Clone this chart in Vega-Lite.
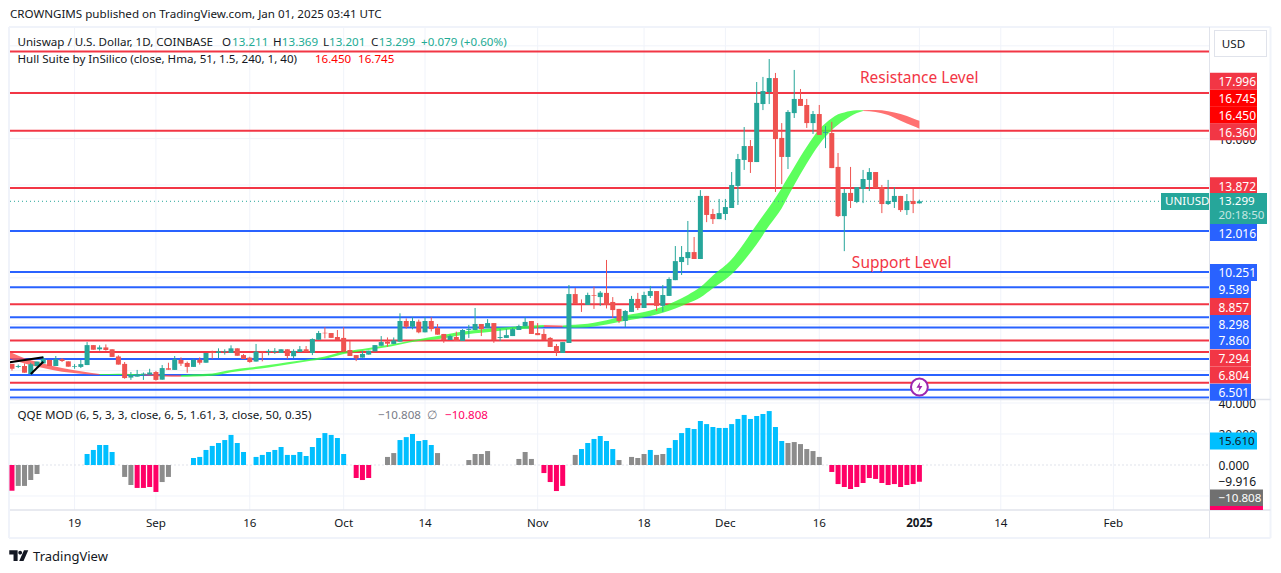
{
"$schema":"https://vega.github.io/schema/vega-lite/v6.json",
"width":1281,"height":573,"padding":0,"autosize":{"type":"none"},"background":"#ffffff",
"config":{"view":{"stroke":null},"axis":{"disable":true},"legend":{"disable":true},"scale":{"continuousPadding":0},"text":{"font":"Noto Sans","fontSize":11.6,"dy":1}},
"datasets":{
"candles":[
{"date":"2024-08-09","open":6.29,"high":6.29,"low":6.00,"close":6.08},
{"date":"2024-08-10","open":6.16,"high":6.26,"low":6.11,"close":6.20},
{"date":"2024-08-11","open":6.20,"high":6.31,"low":5.91,"close":5.91},
{"date":"2024-08-12","open":5.85,"high":6.34,"low":5.82,"close":6.28},
{"date":"2024-08-13","open":6.20,"high":6.39,"low":6.20,"close":6.39},
{"date":"2024-08-14","open":6.31,"high":6.60,"low":6.31,"close":6.51},
{"date":"2024-08-15","open":6.46,"high":6.46,"low":6.20,"close":6.20},
{"date":"2024-08-16","open":6.20,"high":6.63,"low":6.20,"close":6.49},
{"date":"2024-08-17","open":6.49,"high":6.54,"low":6.37,"close":6.41},
{"date":"2024-08-18","open":6.40,"high":6.40,"low":6.17,"close":6.17},
{"date":"2024-08-19","open":6.17,"high":6.28,"low":6.08,"close":6.20},
{"date":"2024-08-20","open":6.16,"high":6.46,"low":6.11,"close":6.28},
{"date":"2024-08-21","open":6.24,"high":7.23,"low":6.24,"close":7.10},
{"date":"2024-08-22","open":7.10,"high":7.10,"low":6.90,"close":6.90},
{"date":"2024-08-23","open":6.92,"high":7.09,"low":6.86,"close":7.00},
{"date":"2024-08-24","open":7.00,"high":7.13,"low":6.86,"close":6.89},
{"date":"2024-08-25","open":6.92,"high":6.92,"low":6.59,"close":6.59},
{"date":"2024-08-26","open":6.61,"high":6.66,"low":6.26,"close":6.26},
{"date":"2024-08-27","open":6.29,"high":6.37,"low":5.65,"close":5.68},
{"date":"2024-08-28","open":5.70,"high":5.94,"low":5.60,"close":5.81},
{"date":"2024-08-29","open":5.74,"high":6.03,"low":5.74,"close":5.85},
{"date":"2024-08-30","open":5.83,"high":5.92,"low":5.60,"close":5.87},
{"date":"2024-08-31","open":5.83,"high":6.08,"low":5.83,"close":5.92},
{"date":"2024-09-01","open":5.94,"high":5.99,"low":5.57,"close":5.60},
{"date":"2024-09-02","open":5.61,"high":6.24,"low":5.61,"close":6.11},
{"date":"2024-09-03","open":6.10,"high":6.34,"low":6.04,"close":6.04},
{"date":"2024-09-04","open":6.03,"high":6.63,"low":6.03,"close":6.49},
{"date":"2024-09-05","open":6.46,"high":6.57,"low":6.20,"close":6.30},
{"date":"2024-09-06","open":6.33,"high":6.39,"low":5.91,"close":6.16},
{"date":"2024-09-07","open":6.16,"high":6.51,"low":6.16,"close":6.46},
{"date":"2024-09-08","open":6.47,"high":6.57,"low":6.26,"close":6.34},
{"date":"2024-09-09","open":6.34,"high":6.76,"low":6.34,"close":6.76},
{"date":"2024-09-10","open":6.82,"high":6.86,"low":6.51,"close":6.76},
{"date":"2024-09-11","open":6.76,"high":6.96,"low":6.54,"close":6.83},
{"date":"2024-09-12","open":6.80,"high":6.92,"low":6.69,"close":6.83},
{"date":"2024-09-13","open":6.76,"high":7.09,"low":6.76,"close":6.96},
{"date":"2024-09-14","open":6.96,"high":6.96,"low":6.64,"close":6.64},
{"date":"2024-09-15","open":6.67,"high":6.72,"low":6.50,"close":6.50},
{"date":"2024-09-16","open":6.56,"high":6.60,"low":6.34,"close":6.37},
{"date":"2024-09-17","open":6.39,"high":7.15,"low":6.39,"close":6.82},
{"date":"2024-09-18","open":6.83,"high":6.83,"low":6.40,"close":6.80},
{"date":"2024-09-19","open":6.80,"high":6.92,"low":6.66,"close":6.85},
{"date":"2024-09-20","open":6.80,"high":6.97,"low":6.72,"close":6.85},
{"date":"2024-09-21","open":6.76,"high":6.92,"low":6.76,"close":6.92},
{"date":"2024-09-22","open":6.92,"high":6.92,"low":6.51,"close":6.63},
{"date":"2024-09-23","open":6.62,"high":6.92,"low":6.54,"close":6.85},
{"date":"2024-09-24","open":6.80,"high":7.06,"low":6.80,"close":6.92},
{"date":"2024-09-25","open":6.92,"high":7.06,"low":6.80,"close":6.80},
{"date":"2024-09-26","open":6.76,"high":7.39,"low":6.67,"close":7.36},
{"date":"2024-09-27","open":7.33,"high":7.71,"low":7.33,"close":7.62},
{"date":"2024-09-28","open":7.63,"high":7.87,"low":7.39,"close":7.61},
{"date":"2024-09-29","open":7.62,"high":7.62,"low":7.41,"close":7.41},
{"date":"2024-09-30","open":7.45,"high":7.75,"low":7.32,"close":7.32},
{"date":"2024-10-01","open":7.41,"high":7.87,"low":6.82,"close":6.82},
{"date":"2024-10-02","open":6.89,"high":7.29,"low":6.63,"close":6.63},
{"date":"2024-10-03","open":6.67,"high":6.67,"low":6.41,"close":6.53},
{"date":"2024-10-04","open":6.56,"high":6.85,"low":6.56,"close":6.72},
{"date":"2024-10-05","open":6.69,"high":6.86,"low":6.69,"close":6.86},
{"date":"2024-10-06","open":6.83,"high":7.10,"low":6.83,"close":7.10},
{"date":"2024-10-07","open":7.07,"high":7.49,"low":7.07,"close":7.23},
{"date":"2024-10-08","open":7.25,"high":7.43,"low":7.03,"close":7.16},
{"date":"2024-10-09","open":7.15,"high":7.43,"low":7.15,"close":7.30},
{"date":"2024-10-10","open":7.25,"high":8.47,"low":7.25,"close":8.14},
{"date":"2024-10-11","open":8.14,"high":8.25,"low":7.81,"close":7.89},
{"date":"2024-10-12","open":7.89,"high":8.30,"low":7.78,"close":8.14},
{"date":"2024-10-13","open":8.11,"high":8.20,"low":7.61,"close":7.65},
{"date":"2024-10-14","open":7.65,"high":8.30,"low":7.65,"close":8.14},
{"date":"2024-10-15","open":8.14,"high":8.30,"low":7.69,"close":7.79},
{"date":"2024-10-16","open":7.84,"high":8.01,"low":7.55,"close":7.55},
{"date":"2024-10-17","open":7.58,"high":7.58,"low":7.20,"close":7.32},
{"date":"2024-10-18","open":7.32,"high":7.55,"low":7.32,"close":7.49},
{"date":"2024-10-19","open":7.45,"high":7.68,"low":7.28,"close":7.28},
{"date":"2024-10-20","open":7.28,"high":7.79,"low":7.28,"close":7.75},
{"date":"2024-10-21","open":7.75,"high":7.97,"low":7.41,"close":7.79},
{"date":"2024-10-22","open":7.75,"high":8.70,"low":7.75,"close":8.01},
{"date":"2024-10-23","open":8.01,"high":8.01,"low":7.49,"close":7.79},
{"date":"2024-10-24","open":7.84,"high":8.22,"low":7.84,"close":8.05},
{"date":"2024-10-25","open":8.05,"high":8.05,"low":7.20,"close":7.32},
{"date":"2024-10-26","open":7.41,"high":7.79,"low":7.28,"close":7.45},
{"date":"2024-10-27","open":7.41,"high":7.79,"low":7.41,"close":7.53},
{"date":"2024-10-28","open":7.49,"high":7.84,"low":7.49,"close":7.79},
{"date":"2024-10-29","open":7.75,"high":7.98,"low":7.75,"close":7.92},
{"date":"2024-10-30","open":7.91,"high":8.30,"low":7.91,"close":8.10},
{"date":"2024-10-31","open":8.14,"high":8.14,"low":7.58,"close":7.58},
{"date":"2024-11-01","open":7.62,"high":8.05,"low":7.53,"close":7.53},
{"date":"2024-11-02","open":7.58,"high":7.79,"low":7.32,"close":7.32},
{"date":"2024-11-03","open":7.41,"high":7.45,"low":7.02,"close":7.02},
{"date":"2024-11-04","open":7.06,"high":7.15,"low":6.63,"close":6.80},
{"date":"2024-11-05","open":6.76,"high":7.23,"low":6.76,"close":7.23},
{"date":"2024-11-06","open":7.19,"high":9.69,"low":7.19,"close":9.30},
{"date":"2024-11-07","open":9.30,"high":9.56,"low":8.87,"close":8.87},
{"date":"2024-11-08","open":8.90,"high":9.07,"low":8.53,"close":8.87},
{"date":"2024-11-09","open":8.83,"high":9.36,"low":8.83,"close":9.26},
{"date":"2024-11-10","open":9.26,"high":9.62,"low":8.66,"close":9.23},
{"date":"2024-11-11","open":9.17,"high":9.43,"low":8.79,"close":9.36},
{"date":"2024-11-12","open":9.35,"high":10.77,"low":8.68,"close":8.83},
{"date":"2024-11-13","open":8.96,"high":9.17,"low":8.27,"close":8.61},
{"date":"2024-11-14","open":8.66,"high":8.66,"low":8.05,"close":8.14},
{"date":"2024-11-15","open":8.14,"high":8.61,"low":7.88,"close":8.57},
{"date":"2024-11-16","open":8.53,"high":9.22,"low":8.53,"close":9.09},
{"date":"2024-11-17","open":9.09,"high":9.35,"low":8.61,"close":8.70},
{"date":"2024-11-18","open":8.70,"high":9.40,"low":8.70,"close":9.26},
{"date":"2024-11-19","open":9.22,"high":9.65,"low":9.13,"close":9.43},
{"date":"2024-11-20","open":9.43,"high":9.43,"low":8.57,"close":8.79},
{"date":"2024-11-21","open":8.79,"high":9.69,"low":8.53,"close":9.26},
{"date":"2024-11-22","open":9.22,"high":10.02,"low":9.22,"close":9.95},
{"date":"2024-11-23","open":9.90,"high":11.37,"low":9.90,"close":10.72},
{"date":"2024-11-24","open":10.68,"high":11.37,"low":10.12,"close":10.90},
{"date":"2024-11-25","open":10.85,"high":12.45,"low":10.55,"close":11.11},
{"date":"2024-11-26","open":11.11,"high":11.76,"low":10.81,"close":10.81},
{"date":"2024-11-27","open":10.81,"high":13.78,"low":10.81,"close":13.53},
{"date":"2024-11-28","open":13.53,"high":13.53,"low":12.40,"close":12.71},
{"date":"2024-11-29","open":12.75,"high":12.97,"low":12.32,"close":12.53},
{"date":"2024-11-30","open":12.53,"high":13.40,"low":12.53,"close":12.79},
{"date":"2024-12-01","open":12.75,"high":13.40,"low":12.49,"close":13.05},
{"date":"2024-12-02","open":13.01,"high":14.56,"low":13.01,"close":14.00},
{"date":"2024-12-03","open":13.96,"high":15.34,"low":13.14,"close":15.12},
{"date":"2024-12-04","open":15.08,"high":16.50,"low":14.65,"close":15.68},
{"date":"2024-12-05","open":15.68,"high":15.94,"low":14.52,"close":14.99},
{"date":"2024-12-06","open":14.99,"high":18.44,"low":14.99,"close":17.54},
{"date":"2024-12-07","open":17.49,"high":18.66,"low":17.23,"close":18.05},
{"date":"2024-12-08","open":18.01,"high":19.43,"low":17.49,"close":18.61},
{"date":"2024-12-09","open":18.61,"high":18.83,"low":13.70,"close":15.98},
{"date":"2024-12-10","open":16.03,"high":16.67,"low":14.04,"close":15.21},
{"date":"2024-12-11","open":15.21,"high":17.23,"low":14.69,"close":17.15},
{"date":"2024-12-12","open":17.10,"high":18.96,"low":16.89,"close":17.71},
{"date":"2024-12-13","open":17.71,"high":18.14,"low":17.41,"close":17.41},
{"date":"2024-12-14","open":17.45,"high":17.71,"low":16.46,"close":16.67},
{"date":"2024-12-15","open":16.67,"high":17.19,"low":16.20,"close":17.06},
{"date":"2024-12-16","open":17.06,"high":17.45,"low":16.16,"close":16.16},
{"date":"2024-12-17","open":16.24,"high":16.54,"low":15.59,"close":16.28},
{"date":"2024-12-18","open":16.24,"high":16.72,"low":14.73,"close":14.73},
{"date":"2024-12-19","open":14.78,"high":15.38,"low":12.62,"close":12.66},
{"date":"2024-12-20","open":12.66,"high":13.83,"low":11.15,"close":13.66},
{"date":"2024-12-21","open":13.66,"high":14.78,"low":13.01,"close":13.31},
{"date":"2024-12-22","open":13.27,"high":13.91,"low":13.22,"close":13.91},
{"date":"2024-12-23","open":13.83,"high":14.65,"low":13.22,"close":14.26},
{"date":"2024-12-24","open":14.22,"high":14.73,"low":13.74,"close":14.56},
{"date":"2024-12-25","open":14.56,"high":14.56,"low":13.87,"close":13.87},
{"date":"2024-12-26","open":13.91,"high":14.00,"low":12.79,"close":13.18},
{"date":"2024-12-27","open":13.18,"high":14.22,"low":13.14,"close":13.31},
{"date":"2024-12-28","open":13.27,"high":13.91,"low":13.01,"close":13.53},
{"date":"2024-12-29","open":13.53,"high":13.53,"low":12.84,"close":12.92},
{"date":"2024-12-30","open":12.92,"high":13.61,"low":12.71,"close":13.31},
{"date":"2024-12-31","open":13.31,"high":13.83,"low":12.79,"close":13.18},
{"date":"2025-01-01","open":13.211,"high":13.369,"low":13.201,"close":13.299}
],
"hull":[
{"date":"2024-08-08T16:00:00Z","upper":6.80,"lower":6.51,"trend":"down","seg":1},
{"date":"2024-08-11","upper":6.53,"lower":6.31,"trend":"down","seg":1},
{"date":"2024-08-14","upper":6.31,"lower":6.11,"trend":"down","seg":1},
{"date":"2024-08-17","upper":6.11,"lower":5.95,"trend":"down","seg":1},
{"date":"2024-08-20","upper":5.97,"lower":5.87,"trend":"down","seg":1},
{"date":"2024-08-23","upper":5.85,"lower":5.81,"trend":"down","seg":1},
{"date":"2024-08-23","upper":5.85,"lower":5.81,"trend":"up","seg":2},
{"date":"2024-08-26","upper":5.87,"lower":5.81,"trend":"up","seg":2},
{"date":"2024-08-30","upper":5.85,"lower":5.80,"trend":"up","seg":2},
{"date":"2024-08-30","upper":5.85,"lower":5.80,"trend":"down","seg":3},
{"date":"2024-09-02","upper":5.81,"lower":5.75,"trend":"down","seg":3},
{"date":"2024-09-05","upper":5.80,"lower":5.74,"trend":"down","seg":3},
{"date":"2024-09-05","upper":5.80,"lower":5.74,"trend":"up","seg":4},
{"date":"2024-09-07","upper":5.84,"lower":5.75,"trend":"up","seg":4},
{"date":"2024-09-10","upper":5.88,"lower":5.78,"trend":"up","seg":4},
{"date":"2024-09-13","upper":6.03,"lower":5.93,"trend":"up","seg":4},
{"date":"2024-09-16","upper":6.13,"lower":6.04,"trend":"up","seg":4},
{"date":"2024-09-19","upper":6.24,"lower":6.14,"trend":"up","seg":4},
{"date":"2024-09-22","upper":6.36,"lower":6.26,"trend":"up","seg":4},
{"date":"2024-09-25","upper":6.47,"lower":6.39,"trend":"up","seg":4},
{"date":"2024-09-28","upper":6.61,"lower":6.51,"trend":"up","seg":4},
{"date":"2024-10-01","upper":6.82,"lower":6.72,"trend":"up","seg":4},
{"date":"2024-10-04","upper":6.93,"lower":6.85,"trend":"up","seg":4},
{"date":"2024-10-07","upper":7.06,"lower":6.97,"trend":"up","seg":4},
{"date":"2024-10-10","upper":7.20,"lower":7.13,"trend":"up","seg":4},
{"date":"2024-10-13","upper":7.35,"lower":7.28,"trend":"up","seg":4},
{"date":"2024-10-16","upper":7.49,"lower":7.35,"trend":"up","seg":4},
{"date":"2024-10-19","upper":7.64,"lower":7.49,"trend":"up","seg":4},
{"date":"2024-10-22","upper":7.75,"lower":7.61,"trend":"up","seg":4},
{"date":"2024-10-25","upper":7.84,"lower":7.69,"trend":"up","seg":4},
{"date":"2024-10-28","upper":7.89,"lower":7.78,"trend":"up","seg":4},
{"date":"2024-10-31","upper":7.94,"lower":7.82,"trend":"up","seg":4},
{"date":"2024-11-02","upper":7.97,"lower":7.88,"trend":"up","seg":4},
{"date":"2024-11-02","upper":7.97,"lower":7.88,"trend":"down","seg":5},
{"date":"2024-11-05","upper":7.95,"lower":7.87,"trend":"down","seg":5},
{"date":"2024-11-05","upper":7.95,"lower":7.87,"trend":"up","seg":6},
{"date":"2024-11-07","upper":7.98,"lower":7.85,"trend":"up","seg":6},
{"date":"2024-11-09","upper":8.02,"lower":7.87,"trend":"up","seg":6},
{"date":"2024-11-11","upper":8.12,"lower":7.94,"trend":"up","seg":6},
{"date":"2024-11-13","upper":8.24,"lower":8.04,"trend":"up","seg":6},
{"date":"2024-11-15","upper":8.38,"lower":8.15,"trend":"up","seg":6},
{"date":"2024-11-17","upper":8.47,"lower":8.24,"trend":"up","seg":6},
{"date":"2024-11-19","upper":8.59,"lower":8.35,"trend":"up","seg":6},
{"date":"2024-11-21","upper":8.76,"lower":8.49,"trend":"up","seg":6},
{"date":"2024-11-23","upper":8.99,"lower":8.68,"trend":"up","seg":6},
{"date":"2024-11-25","upper":9.26,"lower":8.90,"trend":"up","seg":6},
{"date":"2024-11-27","upper":9.60,"lower":9.15,"trend":"up","seg":6},
{"date":"2024-11-29","upper":10.10,"lower":9.55,"trend":"up","seg":6},
{"date":"2024-12-02","upper":10.80,"lower":10.15,"trend":"up","seg":6},
{"date":"2024-12-04","upper":11.50,"lower":10.75,"trend":"up","seg":6},
{"date":"2024-12-06","upper":12.30,"lower":11.45,"trend":"up","seg":6},
{"date":"2024-12-08","upper":13.05,"lower":12.25,"trend":"up","seg":6},
{"date":"2024-12-10","upper":13.87,"lower":13.00,"trend":"up","seg":6},
{"date":"2024-12-11","upper":14.33,"lower":13.50,"trend":"up","seg":6},
{"date":"2024-12-12","upper":14.78,"lower":14.00,"trend":"up","seg":6},
{"date":"2024-12-14","upper":15.65,"lower":14.93,"trend":"up","seg":6},
{"date":"2024-12-16","upper":16.40,"lower":15.75,"trend":"up","seg":6},
{"date":"2024-12-18","upper":16.88,"lower":16.37,"trend":"up","seg":6},
{"date":"2024-12-19","upper":17.05,"lower":16.60,"trend":"up","seg":6},
{"date":"2024-12-20","upper":17.13,"lower":16.79,"trend":"up","seg":6},
{"date":"2024-12-22","upper":17.22,"lower":17.10,"trend":"up","seg":6},
{"date":"2024-12-23","upper":17.22,"lower":17.19,"trend":"up","seg":6},
{"date":"2024-12-23","upper":17.22,"lower":17.19,"trend":"down","seg":7},
{"date":"2024-12-25","upper":17.23,"lower":17.15,"trend":"down","seg":7},
{"date":"2024-12-27","upper":17.18,"lower":17.02,"trend":"down","seg":7},
{"date":"2024-12-29","upper":17.06,"lower":16.77,"trend":"down","seg":7},
{"date":"2024-12-31","upper":16.87,"lower":16.54,"trend":"down","seg":7},
{"date":"2025-01-01","upper":16.77,"lower":16.43,"trend":"down","seg":7}
],
"levels":[
{"price":19.76,"kind":"resistance"},{"price":17.97,"kind":"resistance"},{"price":16.34,"kind":"resistance"},{"price":13.872,"kind":"resistance"},
{"price":12.016,"kind":"support"},{"price":10.251,"kind":"support"},{"price":9.589,"kind":"support"},{"price":8.857,"kind":"resistance"},
{"price":8.298,"kind":"support"},{"price":7.86,"kind":"support"},{"price":7.294,"kind":"resistance"},{"price":6.804,"kind":"resistance"},
{"price":6.501,"kind":"support"},{"price":5.81,"kind":"support"},{"price":5.48,"kind":"resistance"},{"price":5.18,"kind":"support"},{"price":4.84,"kind":"support"}
],
"priceGrid":[{"price":6},{"price":8},{"price":10},{"price":12},{"price":14},{"price":16},{"price":18},{"price":20}],
"ticks":[
{"date":"2024-08-19","label":"19","major":false},{"date":"2024-09-01","label":"Sep","major":false},{"date":"2024-09-16","label":"16","major":false},
{"date":"2024-10-01","label":"Oct","major":false},{"date":"2024-10-14","label":"14","major":false},{"date":"2024-11-01","label":"Nov","major":false},
{"date":"2024-11-18","label":"18","major":false},{"date":"2024-12-01","label":"Dec","major":false},{"date":"2024-12-16","label":"16","major":false},
{"date":"2025-01-01","label":"2025","major":true},{"date":"2025-01-14","label":"14","major":false},{"date":"2025-02-01","label":"Feb","major":false}
],
"priceTags":[
{"label":"17.996","pos":18.47,"kind":"resistance","wide":true},{"label":"16.745","pos":17.74,"kind":"hull","wide":true},
{"label":"16.450","pos":17.02,"kind":"hull","wide":true},{"label":"16.360","pos":16.30,"kind":"resistance","wide":true},
{"label":"13.872","pos":13.97,"kind":"resistance","wide":true},{"label":"12.016","pos":11.95,"kind":"support","wide":true},
{"label":"10.251","pos":10.23,"kind":"support","wide":true},{"label":"9.589","pos":9.50,"kind":"support","wide":false},
{"label":"8.857","pos":8.76,"kind":"resistance","wide":false},{"label":"8.298","pos":8.03,"kind":"support","wide":false},
{"label":"7.860","pos":7.30,"kind":"support","wide":false},{"label":"7.294","pos":6.54,"kind":"resistance","wide":false},
{"label":"6.804","pos":5.81,"kind":"resistance","wide":false},{"label":"6.501","pos":5.07,"kind":"support","wide":false}
],
"axisText":[
{"label":"16.000","pos":15.98},{"label":"40.000","pos":4.605},{"label":"20.000","pos":3.27},{"label":"0.000","pos":1.945},{"label":"−9.916","pos":1.24}
],
"notes":[
{"text":"CROWNGIMS published on TradingView.com, Jan 01, 2025 03:41 UTC","at":"2024-08-08T16:00:00Z","pos":21.37,"kind":"ink"},
{"text":"Uniswap / U.S. Dollar, 1D, COINBASE","at":"2024-08-09T21:00:00Z","pos":20.165,"kind":"ink"},
{"text":"O","at":"2024-09-11T13:30:00Z","pos":20.165,"kind":"ink"},
{"text":"13.211","at":"2024-09-13T04:00:00Z","pos":20.165,"kind":"teal"},
{"text":"H","at":"2024-09-19T17:00:00Z","pos":20.165,"kind":"ink"},
{"text":"13.369","at":"2024-09-21T03:00:00Z","pos":20.165,"kind":"teal"},
{"text":"L","at":"2024-09-27T17:00:00Z","pos":20.165,"kind":"ink"},
{"text":"13.201","at":"2024-09-28T16:00:00Z","pos":20.165,"kind":"teal"},
{"text":"C","at":"2024-10-05T09:00:00Z","pos":20.165,"kind":"ink"},
{"text":"13.299","at":"2024-10-06T15:00:00Z","pos":20.165,"kind":"teal"},
{"text":"+0.079 (+0.60%)","at":"2024-10-13T09:00:00Z","pos":20.165,"kind":"teal"},
{"text":"Hull Suite by InSilico (close, Hma, 51, 1.5, 240, 1, 40)","at":"2024-08-09T21:00:00Z","pos":19.43,"kind":"ink"},
{"text":"16.450","at":"2024-09-26T10:00:00Z","pos":19.43,"kind":"hull"},
{"text":"16.745","at":"2024-10-03T07:00:00Z","pos":19.43,"kind":"hull"},
{"text":"QQE MOD (6, 5, 3, 3, close, 6, 5, 1.61, 3, close, 50, 0.35)","at":"2024-08-09T21:00:00Z","pos":4.087,"kind":"ink"},
{"text":"−10.808","at":"2024-10-06T12:00:00Z","pos":4.087,"kind":"muted"},
{"text":"∅","at":"2024-10-14T08:00:00Z","pos":4.087,"kind":"muted"},
{"text":"−10.808","at":"2024-10-17T05:00:00Z","pos":4.087,"kind":"pink"},
{"text":"USD","at":"2025-02-18T08:00:00Z","pos":20.1,"kind":"ink"},
{"text":"UNIUSD","at":"2025-02-09T06:00:00Z","pos":13.29,"kind":"white"},
{"text":"13.299","at":"2025-02-17T19:00:00Z","pos":13.31,"kind":"white"},
{"text":"20:18:50","at":"2025-02-17T19:00:00Z","pos":12.69,"kind":"soft"},
{"text":"15.610","at":"2025-02-17T19:00:00Z","pos":2.966,"kind":"ink"},
{"text":"−10.808","at":"2025-02-17T19:00:00Z","pos":0.509,"kind":"white"}
],
"callouts":[
{"text":"Resistance Level","at":"2024-12-22T12:00:00Z","pos":18.66},
{"text":"Support Level","at":"2024-12-21T05:00:00Z","pos":10.68}
],
"strokes":[
{"date":"2024-08-08T16:00:00Z","price":6.36,"line":"a"},{"date":"2024-08-14","price":6.58,"line":"a"},
{"date":"2024-08-12","price":5.855,"line":"b"},{"date":"2024-08-14","price":6.38,"line":"b"}
],
"qqe":[
{"date":"2024-08-09","value":-16.6,"state":"down"},{"date":"2024-08-10","value":-13.5,"state":"flat"},{"date":"2024-08-11","value":-13.5,"state":"flat"},{"date":"2024-08-12","value":-9.7,"state":"flat"},{"date":"2024-08-13","value":-5.8,"state":"flat"},
{"date":"2024-08-21","value":7.1,"state":"up"},{"date":"2024-08-22","value":9.7,"state":"up"},{"date":"2024-08-23","value":12.9,"state":"up"},{"date":"2024-08-24","value":12.9,"state":"up"},{"date":"2024-08-25","value":8.4,"state":"up"},
{"date":"2024-08-27","value":-7.7,"state":"flat"},{"date":"2024-08-28","value":-12.9,"state":"flat"},{"date":"2024-08-29","value":-14.8,"state":"down"},{"date":"2024-08-30","value":-14.8,"state":"down"},{"date":"2024-08-31","value":-14.2,"state":"down"},{"date":"2024-09-01","value":-17.4,"state":"down"},{"date":"2024-09-02","value":-11,"state":"flat"},{"date":"2024-09-03","value":-7.7,"state":"flat"},
{"date":"2024-09-07","value":4.5,"state":"up"},{"date":"2024-09-08","value":5.2,"state":"up"},{"date":"2024-09-09","value":9.7,"state":"up"},{"date":"2024-09-10","value":12.3,"state":"up"},{"date":"2024-09-11","value":14.2,"state":"up"},{"date":"2024-09-12","value":16.1,"state":"up"},{"date":"2024-09-13","value":19.4,"state":"up"},{"date":"2024-09-14","value":14.2,"state":"up"},{"date":"2024-09-15","value":8.4,"state":"up"},
{"date":"2024-09-17","value":5.2,"state":"up"},{"date":"2024-09-18","value":6.5,"state":"up"},{"date":"2024-09-19","value":8.4,"state":"up"},{"date":"2024-09-20","value":9.7,"state":"up"},{"date":"2024-09-21","value":11.6,"state":"up"},{"date":"2024-09-22","value":6.5,"state":"up"},{"date":"2024-09-23","value":6.5,"state":"up"},{"date":"2024-09-24","value":8.4,"state":"up"},{"date":"2024-09-25","value":5.8,"state":"up"},{"date":"2024-09-26","value":11.6,"state":"up"},{"date":"2024-09-27","value":17.4,"state":"up"},{"date":"2024-09-28","value":20.6,"state":"up"},{"date":"2024-09-29","value":19.4,"state":"up"},{"date":"2024-09-30","value":17.4,"state":"up"},{"date":"2024-10-01","value":7.1,"state":"up"},
{"date":"2024-10-03","value":-8.4,"state":"down"},{"date":"2024-10-04","value":-9.7,"state":"down"},{"date":"2024-10-05","value":-8.4,"state":"down"},
{"date":"2024-10-08","value":5.2,"state":"flat"},{"date":"2024-10-09","value":7.7,"state":"flat"},{"date":"2024-10-10","value":16.1,"state":"up"},{"date":"2024-10-11","value":18,"state":"up"},{"date":"2024-10-12","value":20,"state":"up"},{"date":"2024-10-13","value":15.5,"state":"up"},{"date":"2024-10-14","value":16.1,"state":"up"},{"date":"2024-10-15","value":12.9,"state":"up"},{"date":"2024-10-16","value":7.7,"state":"flat"},
{"date":"2024-10-21","value":3.2,"state":"flat"},{"date":"2024-10-22","value":7.1,"state":"flat"},{"date":"2024-10-23","value":7.1,"state":"flat"},{"date":"2024-10-24","value":9,"state":"flat"},
{"date":"2024-10-29","value":3.9,"state":"flat"},{"date":"2024-10-30","value":8.4,"state":"flat"},{"date":"2024-10-31","value":3.9,"state":"flat"},
{"date":"2024-11-02","value":-5.2,"state":"down"},{"date":"2024-11-03","value":-11,"state":"down"},{"date":"2024-11-04","value":-16.8,"state":"down"},{"date":"2024-11-05","value":-13.5,"state":"down"},
{"date":"2024-11-07","value":6.5,"state":"flat"},{"date":"2024-11-08","value":10.3,"state":"up"},{"date":"2024-11-09","value":14.2,"state":"up"},{"date":"2024-11-10","value":16.8,"state":"up"},{"date":"2024-11-11","value":18.7,"state":"up"},{"date":"2024-11-12","value":15.5,"state":"up"},{"date":"2024-11-13","value":10.3,"state":"up"},{"date":"2024-11-14","value":3.2,"state":"flat"},
{"date":"2024-11-16","value":5.2,"state":"flat"},{"date":"2024-11-17","value":4.5,"state":"flat"},{"date":"2024-11-18","value":7.1,"state":"flat"},{"date":"2024-11-19","value":9.7,"state":"up"},{"date":"2024-11-20","value":6.5,"state":"flat"},{"date":"2024-11-21","value":7.1,"state":"flat"},{"date":"2024-11-22","value":11,"state":"up"},{"date":"2024-11-23","value":16.1,"state":"up"},{"date":"2024-11-24","value":20.6,"state":"up"},{"date":"2024-11-25","value":23.9,"state":"up"},{"date":"2024-11-26","value":23.2,"state":"up"},{"date":"2024-11-27","value":28.4,"state":"up"},{"date":"2024-11-28","value":26.4,"state":"up"},{"date":"2024-11-29","value":24.5,"state":"up"},{"date":"2024-11-30","value":23.9,"state":"up"},
{"date":"2024-12-01","value":23.9,"state":"up"},{"date":"2024-12-02","value":26.4,"state":"up"},{"date":"2024-12-03","value":29.7,"state":"up"},{"date":"2024-12-04","value":32.3,"state":"up"},{"date":"2024-12-05","value":29.7,"state":"up"},{"date":"2024-12-06","value":31.6,"state":"up"},{"date":"2024-12-07","value":32.9,"state":"up"},{"date":"2024-12-08","value":34.8,"state":"up"},{"date":"2024-12-09","value":24.5,"state":"up"},{"date":"2024-12-10","value":15.5,"state":"up"},{"date":"2024-12-11","value":14.2,"state":"flat"},{"date":"2024-12-12","value":14.8,"state":"flat"},{"date":"2024-12-13","value":13.5,"state":"flat"},{"date":"2024-12-14","value":10.3,"state":"flat"},{"date":"2024-12-15","value":9,"state":"flat"},{"date":"2024-12-16","value":5.2,"state":"flat"},
{"date":"2024-12-18","value":-4.5,"state":"down"},{"date":"2024-12-19","value":-12.3,"state":"down"},{"date":"2024-12-20","value":-14.2,"state":"down"},{"date":"2024-12-21","value":-15.5,"state":"down"},{"date":"2024-12-22","value":-14.2,"state":"down"},{"date":"2024-12-23","value":-11.6,"state":"down"},{"date":"2024-12-24","value":-8.4,"state":"down"},{"date":"2024-12-25","value":-9,"state":"down"},{"date":"2024-12-26","value":-11.6,"state":"down"},{"date":"2024-12-27","value":-12.9,"state":"down"},{"date":"2024-12-28","value":-12.3,"state":"down"},{"date":"2024-12-29","value":-14.2,"state":"down"},{"date":"2024-12-30","value":-12.9,"state":"down"},{"date":"2024-12-31","value":-12.3,"state":"down"},{"date":"2025-01-01","value":-10.81,"state":"down"}
],
"qqeGrid":[{"value":40},{"value":20},{"value":-20}],
"one":[{"mark":1}]
},
"resolve":{"scale":{"y":"independent","color":"independent"}},
"layer":[
{"resolve":{"scale":{"color":"independent"}},"layer":[
{"data":{"name":"ticks"},"mark":{"type":"rule","color":"#f0f3fa","strokeWidth":1},
 "encoding":{"x":{"field":"date","type":"temporal","scale":{"type":"utc","domain":[1722996062037,1740681968205],"nice":false}},
 "y":{"datum":20.77,"type":"quantitative","scale":{"domain":[-2.723,21.975],"zero":false,"nice":false}},"y2":{"datum":-0.008}}},
{"data":{"name":"priceGrid"},"mark":{"type":"rule","color":"#f0f3fa","strokeWidth":1},
 "encoding":{"x":{"datum":1723134125317,"type":"temporal","scale":{"type":"utc","domain":[1722996062037,1740681968205],"nice":false}},"x2":{"datum":1739687912589},
 "y":{"field":"price","type":"quantitative","scale":{"domain":[-2.723,21.975],"zero":false,"nice":false}}}},
{"data":{"name":"levels"},"mark":{"type":"rule","strokeWidth":2},
 "encoding":{"x":{"datum":1723134125317,"type":"temporal","scale":{"type":"utc","domain":[1722996062037,1740681968205],"nice":false}},"x2":{"datum":1739687912589},
 "y":{"field":"price","type":"quantitative","scale":{"domain":[-2.723,21.975],"zero":false,"nice":false}},
 "color":{"field":"kind","type":"nominal","scale":{"domain":["resistance","support","hull"],"range":["#f23645","#2962ff","#ff0000"]},"legend":null}}},
{"data":{"name":"hull"},"mark":{"type":"area","opacity":0.8,"interpolate":"monotone"},
 "encoding":{"x":{"field":"date","type":"temporal","scale":{"type":"utc","domain":[1722996062037,1740681968205],"nice":false}},
 "y":{"field":"upper","type":"quantitative","stack":null,"scale":{"domain":[-2.723,21.975],"zero":false,"nice":false}},"y2":{"field":"lower"},
 "detail":{"field":"seg","type":"nominal"},
 "color":{"field":"trend","type":"nominal","scale":{"domain":["up","down"],"range":["#33ff33","#ff4d4d"]},"legend":null}}},
{"data":{"name":"one"},"mark":{"type":"rule","color":"#26a69a","strokeWidth":1,"strokeDash":[1,3]},
 "encoding":{"x":{"datum":1723134125317,"type":"temporal","scale":{"type":"utc","domain":[1722996062037,1740681968205],"nice":false}},"x2":{"datum":1739687912589},
 "y":{"datum":13.299,"type":"quantitative","scale":{"domain":[-2.723,21.975],"zero":false,"nice":false}}}},
{"data":{"name":"candles"},"mark":{"type":"rule","strokeWidth":1},
 "encoding":{"x":{"field":"date","type":"temporal","scale":{"type":"utc","domain":[1722996062037,1740681968205],"nice":false}},
 "y":{"field":"low","type":"quantitative","scale":{"domain":[-2.723,21.975],"zero":false,"nice":false}},"y2":{"field":"high"},
 "color":{"condition":{"test":"datum.close>=datum.open","value":"#26a69a"},"value":"#ef5350"}}},
{"data":{"name":"candles"},"mark":{"type":"bar","size":5},
 "encoding":{"x":{"field":"date","type":"temporal","scale":{"type":"utc","domain":[1722996062037,1740681968205],"nice":false}},
 "y":{"field":"open","type":"quantitative","stack":null,"scale":{"domain":[-2.723,21.975],"zero":false,"nice":false}},"y2":{"field":"close"},
 "color":{"condition":{"test":"datum.close>=datum.open","value":"#26a69a"},"value":"#ef5350"}}},
{"data":{"name":"strokes"},"mark":{"type":"line","color":"#000000","strokeWidth":2},
 "encoding":{"x":{"field":"date","type":"temporal","scale":{"type":"utc","domain":[1722996062037,1740681968205],"nice":false}},
 "y":{"field":"price","type":"quantitative","scale":{"domain":[-2.723,21.975],"zero":false,"nice":false}},"detail":{"field":"line","type":"nominal"}}},
{"data":{"name":"one"},"mark":{"type":"point","shape":"circle","filled":true,"fill":"#ffffff","stroke":"#9c27b0","strokeWidth":2,"size":283,"opacity":1},
 "encoding":{"x":{"datum":1735689600000,"type":"temporal","scale":{"type":"utc","domain":[1722996062037,1740681968205],"nice":false}},
 "y":{"datum":5.294,"type":"quantitative","scale":{"domain":[-2.723,21.975],"zero":false,"nice":false}}}},
{"data":{"name":"one"},"mark":{"type":"point","shape":"M0.15,-1L-0.6,0.15H-0.05L-0.2,1L0.6,-0.2H0.05Z","filled":true,"fill":"#9c27b0","strokeWidth":0,"size":100,"opacity":1},
 "encoding":{"x":{"datum":1735689600000,"type":"temporal","scale":{"type":"utc","domain":[1722996062037,1740681968205],"nice":false}},
 "y":{"datum":5.294,"type":"quantitative","scale":{"domain":[-2.723,21.975],"zero":false,"nice":false}}}},
{"data":{"name":"one"},"mark":{"type":"rule","color":"#f0f3fa","strokeWidth":2},
 "encoding":{"x":{"datum":1723120318989,"type":"temporal","scale":{"type":"utc","domain":[1722996062037,1740681968205],"nice":false}},"x2":{"datum":1740537001761},
 "y":{"datum":20.81,"type":"quantitative","scale":{"domain":[-2.723,21.975],"zero":false,"nice":false}}}},
{"data":{"name":"one"},"mark":{"type":"rule","color":"#f0f3fa","strokeWidth":2},
 "encoding":{"x":{"datum":1723120318989,"type":"temporal","scale":{"type":"utc","domain":[1722996062037,1740681968205],"nice":false}},"x2":{"datum":1740537001761},
 "y":{"datum":-1.215,"type":"quantitative","scale":{"domain":[-2.723,21.975],"zero":false,"nice":false}}}},
{"data":{"name":"one"},"mark":{"type":"rule","color":"#f0f3fa","strokeWidth":2},
 "encoding":{"x":{"datum":1723120318989,"type":"temporal","scale":{"type":"utc","domain":[1722996062037,1740681968205],"nice":false}},
 "y":{"datum":20.81,"type":"quantitative","scale":{"domain":[-2.723,21.975],"zero":false,"nice":false}},"y2":{"datum":-1.215}}},
{"data":{"name":"one"},"mark":{"type":"rule","color":"#f0f3fa","strokeWidth":2},
 "encoding":{"x":{"datum":1740537001761,"type":"temporal","scale":{"type":"utc","domain":[1722996062037,1740681968205],"nice":false}},
 "y":{"datum":20.81,"type":"quantitative","scale":{"domain":[-2.723,21.975],"zero":false,"nice":false}},"y2":{"datum":-1.215}}},
{"data":{"name":"one"},"mark":{"type":"rule","color":"#e0e3eb","strokeWidth":1.5},
 "encoding":{"x":{"datum":1723134125317,"type":"temporal","scale":{"type":"utc","domain":[1722996062037,1740681968205],"nice":false}},"x2":{"datum":1740537001761},
 "y":{"datum":4.755,"type":"quantitative","scale":{"domain":[-2.723,21.975],"zero":false,"nice":false}}}},
{"data":{"name":"one"},"mark":{"type":"rule","color":"#e0e3eb","strokeWidth":1.5},
 "encoding":{"x":{"datum":1723134125317,"type":"temporal","scale":{"type":"utc","domain":[1722996062037,1740681968205],"nice":false}},"x2":{"datum":1740537001761},
 "y":{"datum":-0.008,"type":"quantitative","scale":{"domain":[-2.723,21.975],"zero":false,"nice":false}}}},
{"data":{"name":"one"},"mark":{"type":"rule","color":"#e0e3eb","strokeWidth":1},
 "encoding":{"x":{"datum":1739694815753,"type":"temporal","scale":{"type":"utc","domain":[1722996062037,1740681968205],"nice":false}},
 "y":{"datum":20.81,"type":"quantitative","scale":{"domain":[-2.723,21.975],"zero":false,"nice":false}},"y2":{"datum":-1.215}}},
{"data":{"name":"one"},"mark":{"type":"rule","color":"#e0e3eb","strokeWidth":27},
 "encoding":{"x":{"datum":1739756944229,"type":"temporal","scale":{"type":"utc","domain":[1722996062037,1740681968205],"nice":false}},"x2":{"datum":1740488679613},
 "y":{"datum":20.1,"type":"quantitative","scale":{"domain":[-2.723,21.975],"zero":false,"nice":false}}}},
{"data":{"name":"one"},"mark":{"type":"rule","color":"#ffffff","strokeWidth":25},
 "encoding":{"x":{"datum":1739770750557,"type":"temporal","scale":{"type":"utc","domain":[1722996062037,1740681968205],"nice":false}},"x2":{"datum":1740474873285},
 "y":{"datum":20.1,"type":"quantitative","scale":{"domain":[-2.723,21.975],"zero":false,"nice":false}}}},
{"data":{"name":"axisText"},"mark":{"type":"text","align":"left","baseline":"middle","color":"#131722","fontSize":12},
 "encoding":{"x":{"datum":1739819072705,"type":"temporal","scale":{"type":"utc","domain":[1722996062037,1740681968205],"nice":false}},
 "y":{"field":"pos","type":"quantitative","scale":{"domain":[-2.723,21.975],"zero":false,"nice":false}},"text":{"field":"label"}}},
{"data":{"name":"priceTags"},"transform":[{"filter":"datum.wide"}],"mark":{"type":"rule","strokeWidth":17},
 "encoding":{"x":{"datum":1739701718917,"type":"temporal","scale":{"type":"utc","domain":[1722996062037,1740681968205],"nice":false}},"x2":{"datum":1740350616333},
 "y":{"field":"pos","type":"quantitative","scale":{"domain":[-2.723,21.975],"zero":false,"nice":false}},
 "color":{"field":"kind","type":"nominal","scale":{"domain":["resistance","support","hull"],"range":["#f23645","#2962ff","#ff0000"]},"legend":null}}},
{"data":{"name":"priceTags"},"transform":[{"filter":"!datum.wide"}],"mark":{"type":"rule","strokeWidth":17},
 "encoding":{"x":{"datum":1739701718917,"type":"temporal","scale":{"type":"utc","domain":[1722996062037,1740681968205],"nice":false}},"x2":{"datum":1740267778365},
 "y":{"field":"pos","type":"quantitative","scale":{"domain":[-2.723,21.975],"zero":false,"nice":false}},
 "color":{"field":"kind","type":"nominal","scale":{"domain":["resistance","support","hull"],"range":["#f23645","#2962ff","#ff0000"]},"legend":null}}},
{"data":{"name":"priceTags"},"mark":{"type":"text","align":"left","baseline":"middle","color":"#ffffff","fontSize":12},
 "encoding":{"x":{"datum":1739819072705,"type":"temporal","scale":{"type":"utc","domain":[1722996062037,1740681968205],"nice":false}},
 "y":{"field":"pos","type":"quantitative","scale":{"domain":[-2.723,21.975],"zero":false,"nice":false}},"text":{"field":"label"}}},
{"data":{"name":"one"},"mark":{"type":"rule","color":"#26a69a","strokeWidth":17},
 "encoding":{"x":{"datum":1739025208845,"type":"temporal","scale":{"type":"utc","domain":[1722996062037,1740681968205],"nice":false}},"x2":{"datum":1739687912589},
 "y":{"datum":13.29,"type":"quantitative","scale":{"domain":[-2.723,21.975],"zero":false,"nice":false}}}},
{"data":{"name":"one"},"mark":{"type":"rule","color":"#26a69a","strokeWidth":31},
 "encoding":{"x":{"datum":1739701718917,"type":"temporal","scale":{"type":"utc","domain":[1722996062037,1740681968205],"nice":false}},"x2":{"datum":1740488679613},
 "y":{"datum":12.99,"type":"quantitative","scale":{"domain":[-2.723,21.975],"zero":false,"nice":false}}}},
{"data":{"name":"one"},"mark":{"type":"rule","color":"#00bfff","strokeWidth":17},
 "encoding":{"x":{"datum":1739701718917,"type":"temporal","scale":{"type":"utc","domain":[1722996062037,1740681968205],"nice":false}},"x2":{"datum":1740350616333},
 "y":{"datum":2.966,"type":"quantitative","scale":{"domain":[-2.723,21.975],"zero":false,"nice":false}}}},
{"data":{"name":"one"},"mark":{"type":"rule","color":"#707070","strokeWidth":17},
 "encoding":{"x":{"datum":1739701718917,"type":"temporal","scale":{"type":"utc","domain":[1722996062037,1740681968205],"nice":false}},"x2":{"datum":1740433000000},
 "y":{"datum":0.509,"type":"quantitative","scale":{"domain":[-2.723,21.975],"zero":false,"nice":false}}}},
{"data":{"name":"one"},"mark":{"type":"rule","color":"#ff0066","strokeWidth":4},
 "encoding":{"x":{"datum":1739701718917,"type":"temporal","scale":{"type":"utc","domain":[1722996062037,1740681968205],"nice":false}},"x2":{"datum":1740433000000},
 "y":{"datum":0.079,"type":"quantitative","scale":{"domain":[-2.723,21.975],"zero":false,"nice":false}}}},
{"data":{"name":"notes"},"mark":{"type":"text","align":"left","baseline":"middle"},
 "encoding":{"x":{"field":"at","type":"temporal","scale":{"type":"utc","domain":[1722996062037,1740681968205],"nice":false}},
 "y":{"field":"pos","type":"quantitative","scale":{"domain":[-2.723,21.975],"zero":false,"nice":false}},"text":{"field":"text"},
 "color":{"field":"kind","type":"nominal","scale":{"domain":["ink","teal","hull","muted","pink","white","soft"],"range":["#131722","#22ab94","#ff0000","#787b86","#ff0066","#ffffff","#c4e6e2"]},"legend":null}}},
{"data":{"name":"callouts"},"mark":{"type":"text","align":"left","baseline":"middle","fontSize":15.5,"color":"#f23645"},
 "encoding":{"x":{"field":"at","type":"temporal","scale":{"type":"utc","domain":[1722996062037,1740681968205],"nice":false}},
 "y":{"field":"pos","type":"quantitative","scale":{"domain":[-2.723,21.975],"zero":false,"nice":false}},"text":{"field":"text"}}},
{"data":{"name":"ticks"},"transform":[{"filter":"!datum.major"}],"mark":{"type":"text","align":"center","baseline":"middle","color":"#131722"},
 "encoding":{"x":{"field":"date","type":"temporal","scale":{"type":"utc","domain":[1722996062037,1740681968205],"nice":false}},
 "y":{"datum":-0.57,"type":"quantitative","scale":{"domain":[-2.723,21.975],"zero":false,"nice":false}},"text":{"field":"label"}}},
{"data":{"name":"ticks"},"transform":[{"filter":"datum.major"}],"mark":{"type":"text","align":"center","baseline":"middle","color":"#131722","fontWeight":"bold"},
 "encoding":{"x":{"field":"date","type":"temporal","scale":{"type":"utc","domain":[1722996062037,1740681968205],"nice":false}},
 "y":{"datum":-0.57,"type":"quantitative","scale":{"domain":[-2.723,21.975],"zero":false,"nice":false}},"text":{"field":"label"}}},
{"data":{"name":"one"},"mark":{"type":"point","shape":"M-1,-0.55H-0.12V0.58H-0.55V-0.1H-1ZM0.35,-0.3A0.2,0.2 0 1 1 -0.05,-0.3A0.2,0.2 0 1 1 0.35,-0.3ZM0.55,-0.55H1L0.5,0.58H0.05Z","filled":true,"fill":"#131722","strokeWidth":0,"size":361,"opacity":1},
 "encoding":{"x":{"datum":1723255000000,"type":"temporal","scale":{"type":"utc","domain":[1722996062037,1740681968205],"nice":false}},
 "y":{"datum":-1.97,"type":"quantitative","scale":{"domain":[-2.723,21.975],"zero":false,"nice":false}}}},
{"data":{"values":[{"text":"TradingView","at":"2024-08-12T09:00:00Z","pos":-1.97}]},"mark":{"type":"text","align":"left","baseline":"middle","fontSize":13,"color":"#131722"},
 "encoding":{"x":{"field":"at","type":"temporal","scale":{"type":"utc","domain":[1722996062037,1740681968205],"nice":false}},
 "y":{"field":"pos","type":"quantitative","scale":{"domain":[-2.723,21.975],"zero":false,"nice":false}},"text":{"field":"text"}}}
]},
{"layer":[
{"data":{"name":"qqeGrid"},"mark":{"type":"rule","color":"#f0f3fa","strokeWidth":1},
 "encoding":{"x":{"datum":1723134125317,"type":"temporal","scale":{"type":"utc","domain":[1722996062037,1740681968205],"nice":false}},"x2":{"datum":1739687912589},
 "y":{"field":"value","type":"quantitative","scale":{"domain":[-69.68,300],"zero":false,"nice":false}}}},
{"data":{"name":"one"},"mark":{"type":"rule","color":"#e0e3eb","strokeWidth":1,"strokeDash":[2,2]},
 "encoding":{"x":{"datum":1723134125317,"type":"temporal","scale":{"type":"utc","domain":[1722996062037,1740681968205],"nice":false}},"x2":{"datum":1739687912589},
 "y":{"datum":0,"type":"quantitative","scale":{"domain":[-69.68,300],"zero":false,"nice":false}}}},
{"data":{"name":"qqe"},"mark":{"type":"bar","size":5},
 "encoding":{"x":{"field":"date","type":"temporal","scale":{"type":"utc","domain":[1722996062037,1740681968205],"nice":false}},
 "y":{"field":"value","type":"quantitative","stack":null,"scale":{"domain":[-69.68,300],"zero":false,"nice":false}},
 "color":{"field":"state","type":"nominal","scale":{"domain":["up","down","flat"],"range":["#00bfff","#ff0066","#8c8c8c"]},"legend":null}}}
]}
]
}
